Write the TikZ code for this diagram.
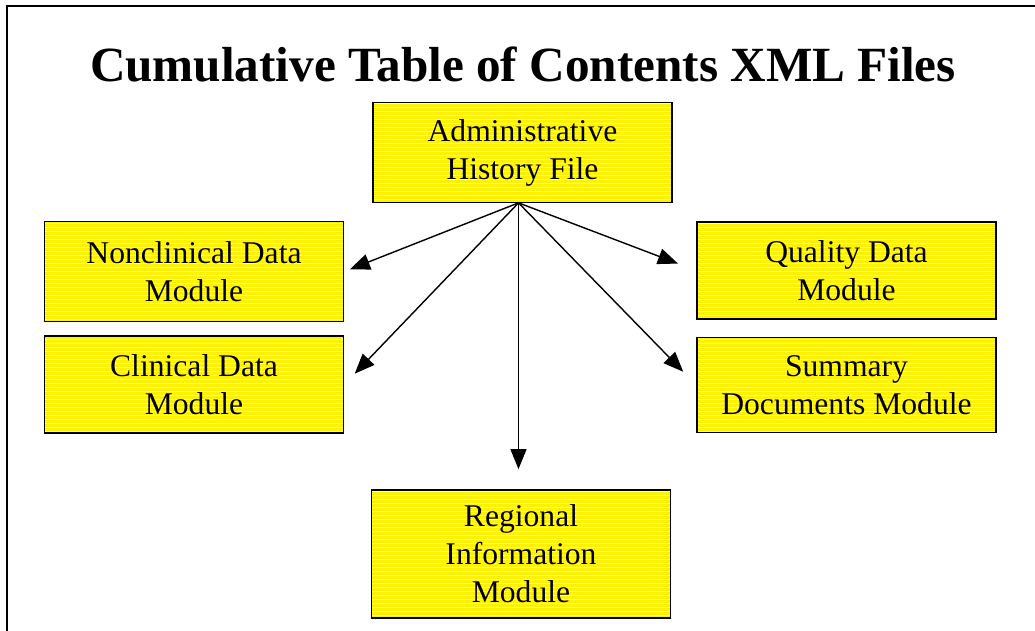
\documentclass[tikz,border=0pt]{standalone}
\usepackage{fontspec}
\setmainfont{Liberation Serif}
\usetikzlibrary{arrows.meta, patterns.meta}

\begin{document}
\begin{tikzpicture}[x=0.02cm, y=-0.02cm,
    >={Triangle[length=0.4cm, width=0.32cm]},
    module/.style={draw, line width=1pt, preaction={fill=yellow},
      pattern={Lines[distance=0.08cm, angle=0, line width=0.015cm]}, pattern color=white,
      minimum width=5.98cm, minimum height=2cm, inner sep=0pt, align=center,
      font=\fontsize{18}{21.6}\selectfont},
    link/.style={->, line width=0.8pt}]

  \useasboundingbox (0,0) rectangle (1035,631);

  % outer frame (left and top edges only)
  \draw[line width=1.2pt] (7,631) -- (7,6) -- (1035,6);

  % title
  \node[font=\fontsize{28}{33}\selectfont\bfseries] (title) at (523,64)
    {Cumulative Table of Contents XML Files};

  % top box
  \node[module] (admin) at (522.5,152.5) {Administrative\\History File};

  % left column
  \node[module] (nonclin) at (194,271.5) {Nonclinical Data\\Module};
  \node[module, minimum height=1.94cm] (clin) at (194,384.5) {Clinical Data\\Module};

  % right column
  \node[module, minimum height=1.94cm] (quality) at (846.5,270.5) {Quality Data\\Module};
  \node[module, minimum height=1.9cm] (summary) at (846.5,385) {Summary\\Documents Module};

  % bottom box
  \node[module, minimum height=2.56cm] (regional) at (521,554) {Regional\\Information\\Module};

  \coordinate (apex) at ([xshift=-0.08cm]admin.south);

  \draw[link, shorten >=0.12cm] (apex) -- (nonclin.east);
  \draw[link, shorten >=0.3cm]  (apex) -- (clin.east);
  \draw[link, shorten >=0.39cm] (apex) -- (quality.west);
  \draw[link, shorten >=0.37cm] (apex) -- (summary.west);
  \draw[link, shorten >=0.4cm]  (apex) -- (apex |- regional.north);
\end{tikzpicture}
\end{document}
